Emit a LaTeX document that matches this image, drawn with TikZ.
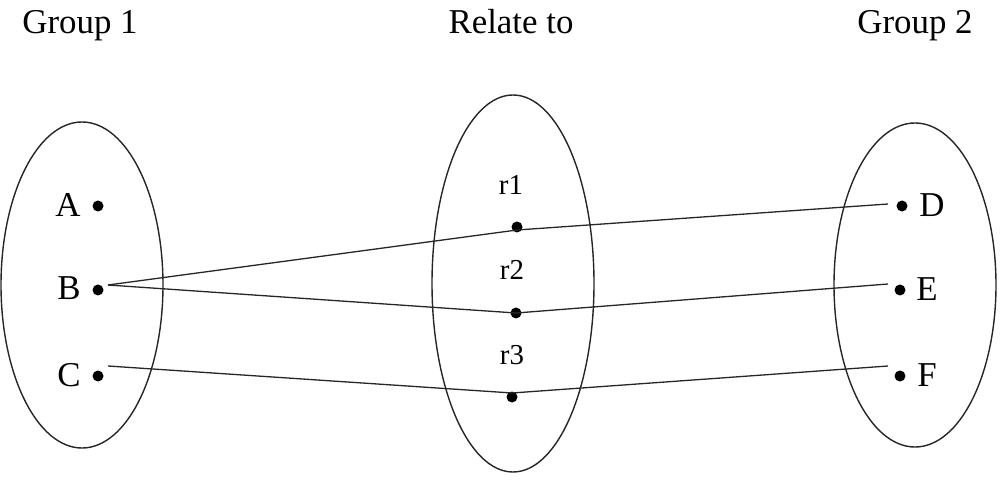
\documentclass[tikz,border=0pt]{standalone}
\usepackage{fontspec}
\setmainfont{Liberation Serif}
\usetikzlibrary{shapes.geometric}
\begin{document}
\begin{tikzpicture}[x=1bp,y=-1bp,
  setshape/.style={draw=black!85,line width=1.4bp},
  pt/.style={circle,fill=black,inner sep=0pt,minimum size=11bp},
  big/.style={font=\fontsize{35}{40}\selectfont,inner sep=0pt,anchor=base},
  rlab/.style={font=\fontsize{29}{34}\selectfont,inner sep=0pt,anchor=base},
  link/.style={draw=black!85,line width=1.3bp}]
\useasboundingbox (0,0) rectangle (1005,482);
% titles
\node[big] (t1) at (80,34) {Group 1};
\node[big] (t2) at (511,34) {Relate to};
\node[big] (t3) at (915,34) {Group 2};
% ellipses
\node[setshape,ellipse,minimum width=162bp,minimum height=326bp] (g1) at (82,285) {};
\node[setshape,ellipse,minimum width=162bp,minimum height=377bp] (rel) at (513,283.5) {};
\node[setshape,ellipse,minimum width=162bp,minimum height=324bp] (g2) at (915,285) {};
% group 1 points
\node[pt] (A) at (98,206) {};
\node[pt] (B) at (98,290) {};
\node[pt] (C) at (98,376) {};
\node[big] (la) at (68,217) {A};
\node[big] (lb) at (69,300) {B};
\node[big] (lc) at (69,387) {C};
% relation points
\node[pt] (r1) at (517,227) {};
\node[pt] (r2) at (516,313) {};
\node[pt] (r3) at (512,397) {};
\node[rlab] (lr1) at (511,195) {r1};
\node[rlab] (lr2) at (512,280) {r2};
\node[rlab] (lr3) at (512,365) {r3};
% group 2 points
\node[pt] (D) at (902,206) {};
\node[pt] (E) at (900,290) {};
\node[pt] (F) at (900,376) {};
\node[big] (ld) at (932,217) {D};
\node[big] (le) at (927,301) {E};
\node[big] (lf) at (927,387) {F};
% connector ends
\coordinate (bs) at (108,285);
\coordinate (cs) at (108,366);
\coordinate (m1) at (517,230);
\coordinate (m3) at (512,393);
\coordinate (de) at (888,204);
\coordinate (ee) at (888,284);
\coordinate (fe) at (888,366);
% connectors
\draw[link] (bs) -- (m1) -- (de);
\draw[link] (bs) -- (r2.center) -- (ee);
\draw[link] (cs) -- (m3) -- (fe);
\end{tikzpicture}
\end{document}
